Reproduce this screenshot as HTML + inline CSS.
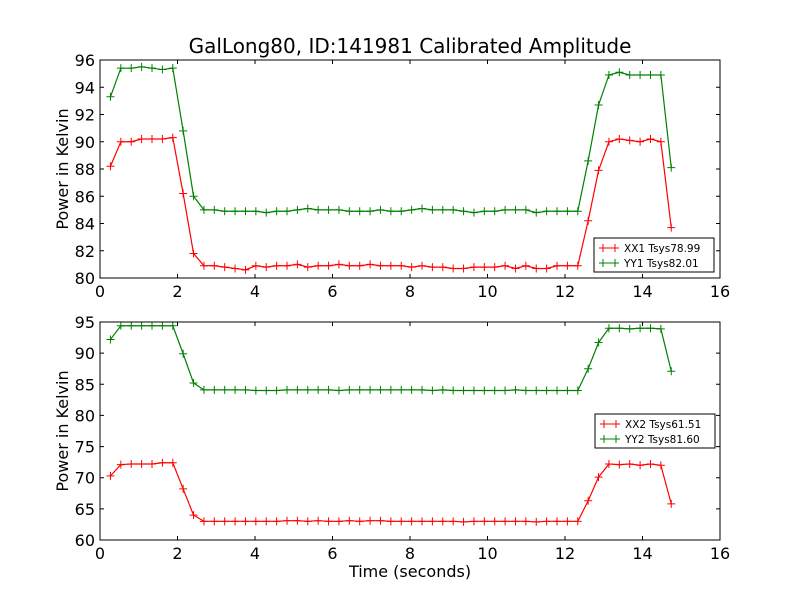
<!DOCTYPE html>
<html><head><meta charset="utf-8"><style>
body{margin:0;background:#fff;}
svg text{font-family:"DejaVu Sans","Liberation Sans",sans-serif;}
</style></head><body>
<svg id="c" width="800" height="600" xmlns="http://www.w3.org/2000/svg">
<rect width="800" height="600" fill="#fff"/>
<text x="410" y="53" font-size="20" text-anchor="middle">GalLong80, ID:141981 Calibrated Amplitude</text>
</svg>
<script>
const xx1 = [88.2,90.0,90.0,90.2,90.2,90.2,90.3,86.2,81.8,80.9,80.9,80.8,80.7,80.6,80.9,80.8,80.9,80.9,81.0,80.8,80.9,80.9,81.0,80.9,80.9,81.0,80.9,80.9,80.9,80.8,80.9,80.8,80.8,80.7,80.7,80.8,80.8,80.8,80.9,80.7,80.9,80.7,80.7,80.9,80.9,80.9,84.2,87.9,90.0,90.2,90.1,90.0,90.2,90.0,83.7];
const yy1 = [93.3,95.4,95.4,95.5,95.4,95.3,95.4,90.8,86.0,85.0,85.0,84.9,84.9,84.9,84.9,84.8,84.9,84.9,85.0,85.1,85.0,85.0,85.0,84.9,84.9,84.9,85.0,84.9,84.9,85.0,85.1,85.0,85.0,85.0,84.9,84.8,84.9,84.9,85.0,85.0,85.0,84.8,84.9,84.9,84.9,84.9,88.6,92.7,94.9,95.1,94.9,94.9,94.9,94.9,88.1];
const xx2 = [70.3,72.1,72.2,72.2,72.2,72.4,72.4,68.2,64.0,63.0,63.0,63.0,63.0,63.0,63.0,63.0,63.0,63.1,63.1,63.0,63.1,63.0,63.0,63.1,63.0,63.1,63.1,63.0,63.0,63.0,63.0,63.0,63.0,63.0,62.9,63.0,63.0,63.0,63.0,63.0,63.0,62.9,63.0,63.0,63.0,63.0,66.3,70.1,72.2,72.1,72.2,72.0,72.2,72.0,65.8];
const yy2 = [92.2,94.4,94.4,94.4,94.4,94.4,94.4,89.9,85.2,84.1,84.1,84.1,84.1,84.1,84.0,84.0,84.0,84.1,84.1,84.1,84.1,84.1,84.0,84.1,84.1,84.1,84.1,84.1,84.1,84.1,84.1,84.0,84.1,84.0,84.0,84.0,84.0,84.0,84.0,84.1,84.0,84.0,84.0,84.0,84.0,84.0,87.5,91.7,94.0,94.0,93.9,94.0,94.0,93.9,87.1];
const xTicks = [0,2,4,6,8,10,12,14,16];
const yTicks1 = [80,82,84,86,88,90,92,94,96];
const yTicks2 = [60,65,70,75,80,85,90,95];
const legend1 = ["XX1 Tsys78.99","YY1 Tsys82.01"];
const legend2 = ["XX2 Tsys61.51","YY2 Tsys81.60"];
const t0 = 0.27, dt = 0.268;

const svg = document.getElementById('c');
const NS = 'http://www.w3.org/2000/svg';
function mk(tag, attrs, parent){const e=document.createElementNS(NS,tag);for(const k in attrs)e.setAttribute(k,attrs[k]);(parent||svg).appendChild(e);return e;}

function panel(top, ymin, ymax, yTicks, s1, s2, leg, legBox, name, showXLabel){
  const L=100,R=720,T=top,B=top+218;
  const sx=v=>L+(v-0)/(16-0)*(R-L);
  const sy=v=>B-(v-ymin)/(ymax-ymin)*(B-T);
  const g=mk('g',{});
  
  
  [[s1,'#ff0000','xx'],[s2,'#008000','yy']].forEach(([s,col,nm])=>{
    const pts=s.map((v,i)=>[sx(t0+i*dt),sy(v)]);
    const pl=mk('polyline',{points:pts.map(p=>p.join(',')).join(' '),fill:'none',stroke:col,'stroke-width':1.2},g);
    
    
    pts.forEach(p=>{
      const m=mk('path',{d:`M${p[0]-4},${p[1]}h8M${p[0]},${p[1]-4}v8`,stroke:col,'stroke-width':1},g);
      
      
    });
  });
  const fr=mk('rect',{x:L,y:T,width:R-L,height:B-T,fill:'none',stroke:'#000','stroke-width':1},g);
  
  
  xTicks.forEach(v=>{
    const x=sx(v);
    mk('path',{d:`M${x},${B}v-4M${x},${T}v4`,stroke:'#000'},g);
    const t=mk('text',{x:x,y:B+19,'font-size':16,'text-anchor':'middle'},g);t.textContent=v;
    
    
  });
  yTicks.forEach(v=>{
    const y=sy(v);
    mk('path',{d:`M${L},${y}h4M${R},${y}h-4`,stroke:'#000'},g);
    const t=mk('text',{x:L-5,y:y+6,'font-size':16,'text-anchor':'end'},g);t.textContent=v;
    
    
  });
  const yl=mk('text',{x:0,y:0,'font-size':16,'text-anchor':'middle',transform:`translate(68,${(T+B)/2}) rotate(-90)`},g);
  yl.textContent='Power in Kelvin';
  
  
  if(showXLabel){
    const xl=mk('text',{x:(L+R)/2,y:B+37,'font-size':16,'text-anchor':'middle'},g);
    xl.textContent='Time (seconds)';
    
    
  }
  const [lx,ly]=legBox;
  const lg=mk('g',{},g);
  
  
  mk('rect',{x:lx,y:ly,width:120,height:34,fill:'#fff',stroke:'#000'},lg);
  leg.forEach((txt,i)=>{
    const col=i?'#008000':'#ff0000';const yy=ly+10+i*15;
    mk('path',{d:`M${lx+5},${yy}h20M${lx+9},${yy-4}v8M${lx+21},${yy-4}v8`,stroke:col},lg);
    const t=mk('text',{x:lx+30,y:yy+4,'font-size':10.5},lg);t.textContent=txt;
    
    
  });
}
panel(60,80,96,yTicks1,xx1,yy1,legend1,[594,238],'top-panel',false);
panel(322,60,95,yTicks2,xx2,yy2,legend2,[595,414],'bottom-panel',true);
</script>
</body></html>
